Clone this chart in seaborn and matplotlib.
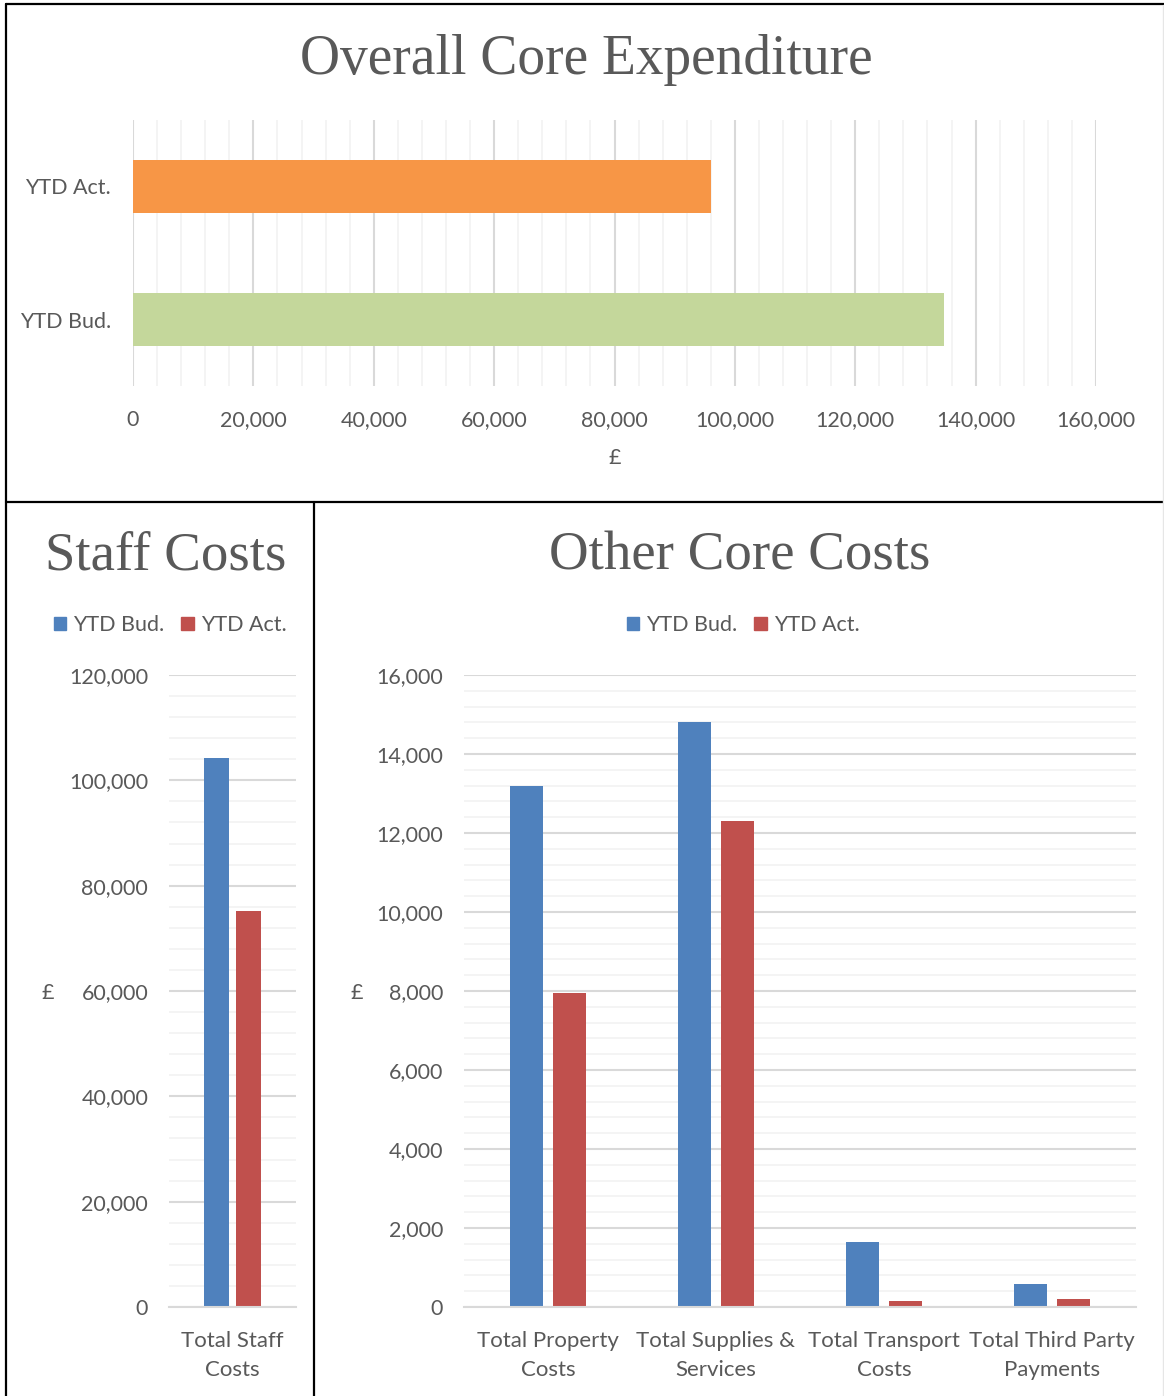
import matplotlib
matplotlib.use("Agg")
import matplotlib.pyplot as plt
from matplotlib.lines import Line2D
from matplotlib.ticker import MultipleLocator, FuncFormatter
import seaborn as sns
import pandas as pd

# ---- data ----
overall_categories = ["YTD Act.", "YTD Bud."]
overall_values = [96000, 134700]

series_names = ["YTD Bud.", "YTD Act."]
staff_categories = ["Total Staff\nCosts"]
staff_bud = [104200]
staff_act = [75200]

other_categories = ["Total Property\nCosts", "Total Supplies &\nServices",
                    "Total Transport\nCosts", "Total Third Party\nPayments"]
other_bud = [13200, 14800, 1650, 570]
other_act = [7950, 12300, 150, 200]

# ---- style ----
sns.set_theme(style="white")
plt.rcParams["font.family"] = ["Lato", "DejaVu Sans"]
TXT = "#595959"
MAJ = "#d9d9d9"
MIN = "#f2f2f2"
ORANGE, GREEN = "#F79646", "#C4D79B"
BLUE, RED = "#4F81BD", "#C0504D"

W, H = 1164, 1396
fig = plt.figure(figsize=(W / 100, H / 100), dpi=100)
fig.patch.set_facecolor("white")


def rect(l, t, r, b):
    return [l / W, 1 - b / H, (r - l) / W, (b - t) / H]


def fx(x):
    return x / W


def fy(y):
    return 1 - y / H


thousands = FuncFormatter(lambda v, p: f"{int(round(v)):,}")
TITLE_FONT = dict(family=["Liberation Serif", "DejaVu Serif"], color=TXT)

# ---- frame lines ----
for (x0, y0, x1, y1) in [(6, 4, 1164, 4), (6, 4, 6, 1396),
                         (6, 502, 1164, 502), (314, 502, 314, 1396)]:
    fig.add_artist(Line2D([fx(x0), fx(x1)], [fy(y0), fy(y1)], transform=fig.transFigure,
                          color="black", lw=1.6))
fig.add_artist(Line2D([fx(1163), fx(1163)], [fy(5), fy(1396)], transform=fig.transFigure,
                      color="#e6e6e6", lw=1.0))

# ---- top: Overall Core Expenditure ----
ax1 = fig.add_axes(rect(133, 120, 1096, 386))
df1 = pd.DataFrame({"cat": overall_categories, "val": overall_values})
sns.barplot(data=df1, x="val", y="cat", hue="cat", palette=[ORANGE, GREEN],
            orient="h", width=0.4, legend=False, ax=ax1, saturation=1, linewidth=0)
ax1.set_xlim(0, 160000)
ax1.set_ylim(1.5, -0.5)
ax1.xaxis.set_major_locator(MultipleLocator(20000))
ax1.xaxis.set_minor_locator(MultipleLocator(4000))
ax1.xaxis.set_major_formatter(thousands)
ax1.grid(True, axis="x", which="major", color=MAJ, lw=1.5)
ax1.grid(True, axis="x", which="minor", color=MIN, lw=1.2)
ax1.grid(False, axis="y")
ax1.set_axisbelow(True)
for s in ax1.spines.values():
    s.set_visible(False)
ax1.tick_params(axis="x", which="both", length=0, pad=17, labelsize=15.5, labelcolor=TXT)
ax1.tick_params(axis="y", length=0, pad=16, labelsize=15.5, labelcolor=TXT)
ax1.set_xlabel("£", fontsize=15.5, color=TXT, labelpad=13)
ax1.set_ylabel("")
fig.text(fx(586), fy(60), "Overall Core Expenditure", ha="center", va="center",
         fontsize=40, **TITLE_FONT)


def grouped(ax, cats, bud, act, ymax, major, minor, ylabel_x):
    df = pd.DataFrame({
        "cat": cats * 2,
        "series": [series_names[0]] * len(cats) + [series_names[1]] * len(cats),
        "val": list(bud) + list(act),
    })
    sns.barplot(data=df, x="cat", y="val", hue="series", palette=[BLUE, RED],
                width=0.51, gap=0.22, saturation=1, linewidth=0, ax=ax)
    n = len(cats)
    ax.set_xlim(-0.5, n - 0.5)
    ax.set_ylim(0, ymax)
    ax.yaxis.set_major_locator(MultipleLocator(major))
    ax.yaxis.set_minor_locator(MultipleLocator(minor))
    ax.yaxis.set_major_formatter(thousands)
    ax.grid(True, axis="y", which="major", color=MAJ, lw=1.5)
    ax.grid(True, axis="y", which="minor", color=MIN, lw=1.2)
    ax.grid(False, axis="x")
    ax.set_axisbelow(True)
    for k in ["top", "right", "left"]:
        ax.spines[k].set_visible(False)
    ax.spines["bottom"].set_color(MAJ)
    ax.spines["bottom"].set_linewidth(1.5)
    ax.set_xticks([i - 0.5 for i in range(n + 1)], minor=True)
    ax.tick_params(axis="x", which="minor", length=7, width=1.5, color=MAJ, direction="out")
    ax.tick_params(axis="x", which="major", length=0, pad=17, labelsize=16, labelcolor=TXT)
    ax.tick_params(axis="y", which="both", length=0, pad=15, labelsize=15.5, labelcolor=TXT)
    for lab in ax.get_xticklabels():
        lab.set_linespacing(1.6)
    ax.set_xlabel("")
    ax.set_ylabel("")
    ax.get_legend().remove()
    fig.text(fx(ylabel_x), fy(993), "£", ha="center", va="center", fontsize=15.5, color=TXT)


# ---- bottom-left: Staff Costs ----
ax2 = fig.add_axes(rect(169, 675, 296, 1307))
grouped(ax2, staff_categories, staff_bud, staff_act, 120000, 20000, 4000, 48)
fig.text(fx(166), fy(556), "Staff Costs", ha="center", va="center", fontsize=39.5, **TITLE_FONT)

# ---- bottom-right: Other Core Costs ----
ax3 = fig.add_axes(rect(464, 675, 1136, 1307))
grouped(ax3, other_categories, other_bud, other_act, 16000, 2000, 400, 357)
fig.text(fx(740), fy(556), "Other Core Costs", ha="center", va="center", fontsize=39.5, **TITLE_FONT)

# ---- legends ----
handles = [plt.Rectangle((0, 0), 1, 1, color=BLUE), plt.Rectangle((0, 0), 1, 1, color=RED)]
for cx in (170, 743):
    fig.legend(handles, series_names, loc="center", bbox_to_anchor=(fx(cx), fy(625)),
               ncol=2, frameon=False, fontsize=15.5, labelcolor=TXT,
               handlelength=0.6, handleheight=0.6, handletextpad=0.3, columnspacing=0.8)

fig.savefig("out.png", dpi=100, facecolor="white")
